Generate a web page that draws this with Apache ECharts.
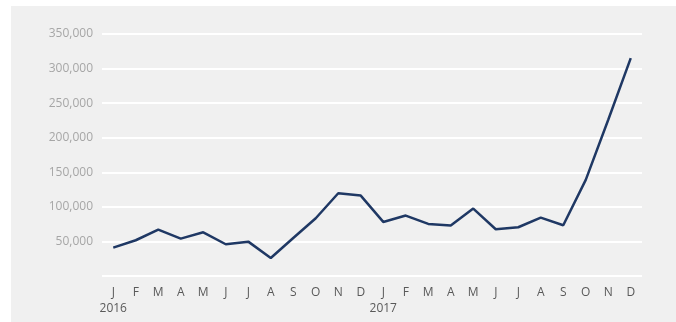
<!DOCTYPE html>
<html><head><meta charset="utf-8">
<script src="https://cdn.jsdelivr.net/npm/echarts@6/dist/echarts.min.js"></script>
<style>html,body{margin:0;padding:0;background:#fff;}#c{width:676px;height:322px;}</style>
</head><body><div id="c"></div>
<script>
var months = ['J','F','M','A','M','J','J','A','S','O','N','D','J','F','M','A','M','J','J','A','S','O','N','D'];
var years = ['2016','','','','','','','','','','','','2017','','','','','','','','','','',''];
var values = [41000,51700,67100,54100,63200,45900,49700,26100,55000,83500,119700,116300,
              78200,87400,75300,72900,97500,67600,70500,84500,73400,139000,226000,315200];
var yTicks = [0,50000,100000,150000,200000,250000,300000,350000];

var categories = months.map(function(m,i){return i;});
var chart = echarts.init(document.getElementById('c'), null, {renderer:'canvas'});
chart.setOption({
  backgroundColor: '#ffffff',
  animation: false,
  graphic: [{type:'rect', left:11, top:6, shape:{width:665, height:316}, style:{fill:'#f0f0f0'}, z:-10, silent:true}],
  grid: {left:102, right:34, top:34, bottom:46, containLabel:false},
  xAxis: {
    type:'category', data: categories, boundaryGap:true,
    axisLine:{show:false}, axisTick:{show:false},
    axisLabel:{
      interval:0, margin:9, color:'#595959', fontFamily:'Open Sans', fontSize:12, lineHeight:16,
      formatter:function(v){var i=+v; return years[i] ? months[i]+'\n'+years[i] : months[i];}
    }
  },
  yAxis: {
    type:'value', min:yTicks[0], max:yTicks[yTicks.length-1], interval:50000,
    axisLine:{show:false}, axisTick:{show:false},
    splitLine:{lineStyle:{color:'#ffffff', width:2}},
    axisLabel:{
      margin:9, color:'#a6a6a6', fontFamily:'Open Sans', fontSize:12,
      formatter:function(v){return v===0 ? '' : v.toLocaleString('en-US');}
    }
  },
  series: [{
    type:'line', data: values, symbol:'none',
    lineStyle:{color:'#1f3864', width:2.5}
  }]
});
</script></body></html>
